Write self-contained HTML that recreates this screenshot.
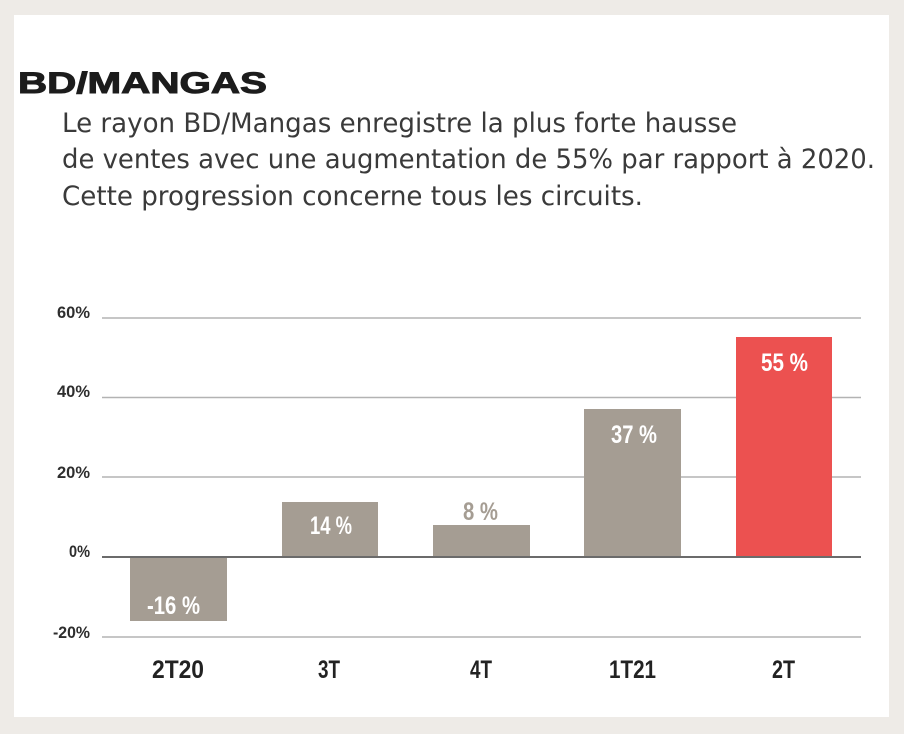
<!DOCTYPE html>
<html>
<head>
<meta charset="utf-8">
<style>
  html,body{margin:0;padding:0;background:#eeebe7;}
  body{width:904px;height:734px;overflow:hidden;position:relative;}
  .panel{position:absolute;left:14px;top:15px;width:875px;height:702px;background:#ffffff;}
  svg{position:absolute;left:0;top:0;}
</style>
</head>
<body>
<div class="panel"></div>
<svg width="904" height="734" viewBox="0 0 904 734" xmlns="http://www.w3.org/2000/svg">
  <!-- Title -->
  <text x="18" y="93" font-family="Liberation Sans, sans-serif" font-weight="900" font-size="30" fill="#1c1c1c" textLength="249" lengthAdjust="spacingAndGlyphs" stroke="#1c1c1c" stroke-width="1">BD/MANGAS</text>
  <!-- Body text -->
  <g font-family="DejaVu Sans, Liberation Sans, sans-serif" font-size="27" fill="#3a3a3a">
    <text x="62" y="132" textLength="675" lengthAdjust="spacingAndGlyphs">Le rayon BD/Mangas enregistre la plus forte hausse</text>
    <text x="62" y="168" textLength="813" lengthAdjust="spacingAndGlyphs">de ventes avec une augmentation de 55% par rapport à 2020.</text>
    <text x="62" y="205" textLength="581" lengthAdjust="spacingAndGlyphs">Cette progression concerne tous les circuits.</text>
  </g>

  <!-- Gridlines -->
  <g stroke="#b3b3b3" stroke-width="1.5">
    <line x1="102" y1="318" x2="861" y2="318"/>
    <line x1="102" y1="397.5" x2="861" y2="397.5"/>
    <line x1="102" y1="477" x2="861" y2="477"/>
    <line x1="102" y1="637" x2="861" y2="637"/>
  </g>

  <!-- Bars -->
  <rect x="130" y="557" width="97" height="64" fill="#a59d93"/>
  <rect x="282" y="502" width="96" height="55" fill="#a59d93"/>
  <rect x="433" y="525" width="97" height="32" fill="#a59d93"/>
  <rect x="584" y="409" width="97" height="148" fill="#a59d93"/>
  <rect x="736" y="337" width="96" height="220" fill="#ec5150"/>

  <!-- zero line -->
  <line x1="102" y1="557" x2="861" y2="557" stroke="#6b6b6b" stroke-width="2"/>

  <!-- Y labels -->
  <g font-family="Liberation Sans, sans-serif" font-weight="bold" font-size="17" fill="#2e2e2e">
    <text x="57" y="318" textLength="33" lengthAdjust="spacingAndGlyphs">60%</text>
    <text x="57" y="397" textLength="33" lengthAdjust="spacingAndGlyphs">40%</text>
    <text x="57" y="478" textLength="33" lengthAdjust="spacingAndGlyphs">20%</text>
    <text x="69" y="557" textLength="21" lengthAdjust="spacingAndGlyphs">0%</text>
    <text x="53" y="638" textLength="37" lengthAdjust="spacingAndGlyphs">-20%</text>
  </g>

  <!-- Category labels -->
  <g font-family="Liberation Sans, sans-serif" font-weight="bold" font-size="25" fill="#222">
    <text x="152" y="678" textLength="52" lengthAdjust="spacingAndGlyphs">2T20</text>
    <text x="318" y="678" textLength="22" lengthAdjust="spacingAndGlyphs">3T</text>
    <text x="470" y="678" textLength="22" lengthAdjust="spacingAndGlyphs">4T</text>
    <text x="609" y="678" textLength="47" lengthAdjust="spacingAndGlyphs">1T21</text>
    <text x="772" y="678" textLength="23" lengthAdjust="spacingAndGlyphs">2T</text>
  </g>

  <!-- Value labels -->
  <g font-family="Liberation Sans, sans-serif" font-weight="bold" font-size="25" fill="#ffffff">
    <text x="147" y="614" textLength="53" lengthAdjust="spacingAndGlyphs">-16 %</text>
    <text x="310" y="534" textLength="42" lengthAdjust="spacingAndGlyphs">14 %</text>
    <text x="611" y="443" textLength="46" lengthAdjust="spacingAndGlyphs">37 %</text>
    <text x="761" y="371" textLength="47" lengthAdjust="spacingAndGlyphs">55 %</text>
  </g>
  <text x="463" y="520" font-family="Liberation Sans, sans-serif" font-weight="bold" font-size="25" fill="#a59d93" textLength="35" lengthAdjust="spacingAndGlyphs">8 %</text>
</svg>
</body>
</html>
